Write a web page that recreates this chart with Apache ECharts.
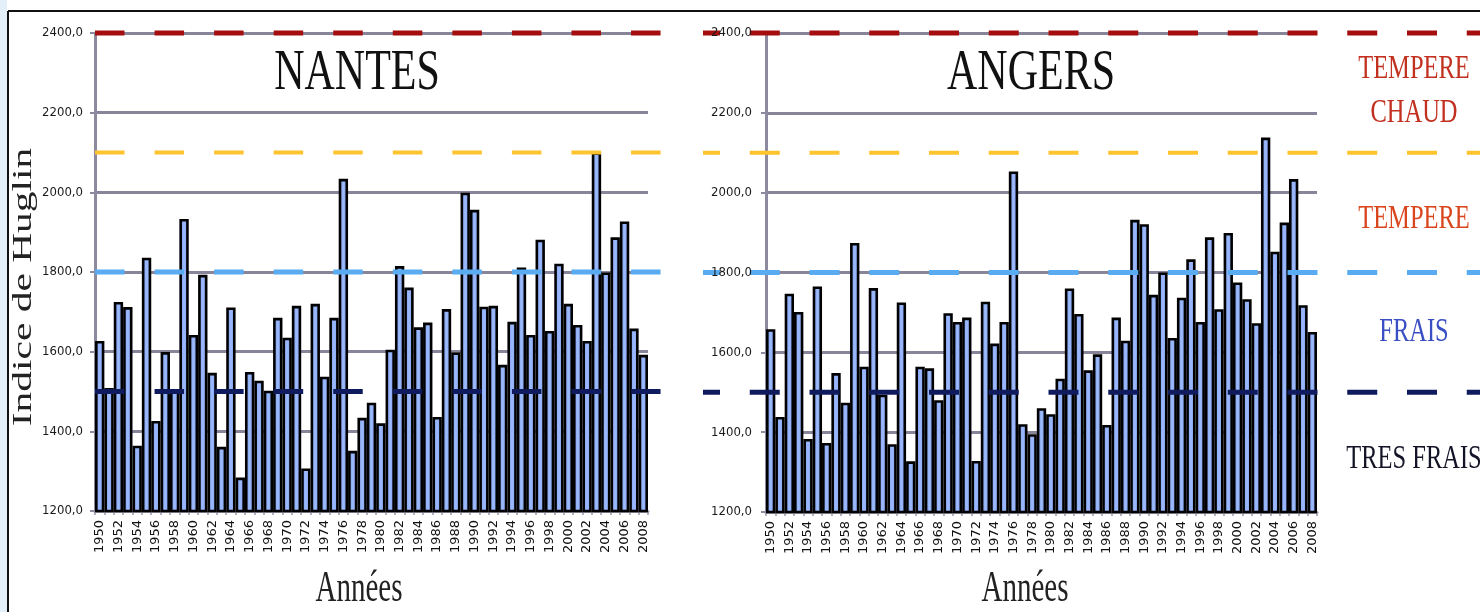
<!DOCTYPE html>
<html>
<head>
<meta charset="utf-8">
<script src="https://cdn.jsdelivr.net/npm/echarts@6/dist/echarts.min.js"></script>
<style>
html,body{margin:0;padding:0;background:#fff;}
#c{width:1480px;height:612px;}
</style>
</head>
<body>
<div id="c"></div>
<script>
const years = [1950,1951,1952,1953,1954,1955,1956,1957,1958,1959,
  1960,1961,1962,1963,1964,1965,1966,1967,1968,1969,
  1970,1971,1972,1973,1974,1975,1976,1977,1978,1979,
  1980,1981,1982,1983,1984,1985,1986,1987,1988,1989,
  1990,1991,1992,1993,1994,1995,1996,1997,1998,1999,
  2000,2001,2002,2003,2004,2005,2006,2007,2008];
const nantes = [1627,1509,1725,1712,1364,1836,1426,1599,1504,1933,
  1642,1793,1547,1361,1711,1284,1549,1527,1502,1685,
  1635,1715,1307,1720,1537,1685,2034,1351,1434,1472,
  1420,1605,1815,1761,1661,1673,1436,1707,1598,1999,
  1956,1713,1715,1567,1675,1811,1642,1881,1652,1821,
  1720,1667,1627,2100,1799,1887,1927,1658,1592];
const angers = [1658,1438,1747,1701,1383,1765,1373,1548,1474,1874,
  1564,1761,1494,1370,1725,1327,1564,1560,1480,1698,
  1676,1687,1328,1727,1622,1676,2053,1420,1395,1460,
  1445,1534,1760,1696,1555,1595,1418,1687,1629,1932,
  1921,1744,1800,1636,1737,1833,1676,1888,1708,1899,
  1775,1733,1673,2138,1852,1925,2034,1718,1651];
const yTicks = [1200,1400,1600,1800,2000,2200,2400];
const thresholds = [2400, 2100, 1800, 1500];
const zoneLabels = ['TEMPERE', 'CHAUD', 'TEMPERE', 'FRAIS', 'TRES FRAIS'];
const titles = ['NANTES', 'ANGERS'];
const yName = 'Indice de Huglin';
const xName = 'Années';

const thrColors = ['#a50e0e', '#fdc42e', '#59abf2', '#0f1b5c'];
const thrWidths = [5, 4, 5, 5];
const zoneColors = ['#c2301f', '#c2301f', '#d9461e', '#3a4fc4', '#141428'];
const zoneY = [69, 113, 219, 332, 459];

const chart = echarts.init(document.getElementById('c'), null, {renderer: 'canvas'});

const gridLineColor = '#88849a';
const yMin = yTicks[0], yMax = yTicks[yTicks.length - 1], yStep = yTicks[1] - yTicks[0];
const fmt = v => v.toFixed(1).replace('.', ',');

function catAxis(gi) {
  return {
    type: 'category', gridIndex: gi, data: years.map(String),
    axisLine: {lineStyle: {color: '#9a98aa', width: 3}},
    axisTick: {show: true, interval: 0, length: 4, lineStyle: {color: '#9a98aa', width: 1.5}},
    axisLabel: {interval: 1, rotate: 90, margin: 9, color: '#111',
      fontFamily: 'DejaVu Sans', fontSize: 13}
  };
}
function valAxis(gi, showLabel, margin) {
  return {
    type: 'value', gridIndex: gi, position: 'left', min: yMin, max: yMax, interval: yStep,
    axisLine: {show: true, lineStyle: {color: '#8c8a9e', width: 3}},
    axisTick: {show: true, length: 5, lineStyle: {color: '#8c8a9e', width: 2}},
    splitLine: {show: true, lineStyle: {color: gridLineColor, width: 3}},
    axisLabel: {show: showLabel, margin: margin, formatter: fmt, color: '#1a1a1a',
      fontFamily: "'Liberation Sans Narrow', 'DejaVu Sans Condensed', sans-serif", fontSize: 13}
  };
}
function hiddenX(gi) { return {type: 'value', gridIndex: gi, min: 0, max: 1, show: false}; }
function hiddenY(gi) { return {type: 'value', gridIndex: gi, min: yMin, max: yMax, show: false}; }

const barStyle = {
  color: {type: 'linear', x: 0, y: 0, x2: 1, y2: 0, colorStops: [
    {offset: 0, color: '#7396ea'}, {offset: 0.5, color: '#9dbafb'}, {offset: 1, color: '#7396ea'}]},
  borderColor: '#000', borderWidth: 2.6
};

const series = [
  {type: 'bar', xAxisIndex: 0, yAxisIndex: 0, data: nantes, barCategoryGap: '0%', itemStyle: barStyle, z: 2, animation: false},
  {type: 'bar', xAxisIndex: 1, yAxisIndex: 1, data: angers, barCategoryGap: '0%', itemStyle: barStyle, z: 2, animation: false}
];
thresholds.forEach((t, k) => {
  series.push({type: 'line', xAxisIndex: 2, yAxisIndex: 2, data: [[0, t], [1, t]],
    symbol: 'none', clip: false, z: 5, animation: false, silent: true,
    lineStyle: {color: thrColors[k], width: thrWidths[k], type: [29.5, 30.06], dashOffset: 0, cap: 'butt'}});
  series.push({type: 'line', xAxisIndex: 3, yAxisIndex: 3, data: [[0, t], [1, t]],
    symbol: 'none', clip: false, z: 5, animation: false, silent: true,
    lineStyle: {color: thrColors[k], width: thrWidths[k], type: [30, 29.75], dashOffset: 13, cap: 'butt'}});
});

function serifText(txt, x, y, size, sy, color, extra) {
  return Object.assign({type: 'text', x: x, y: y, scaleX: 1, scaleY: sy, z: 20,
    style: {text: txt, fill: color, font: size + "px 'Liberation Serif', 'DejaVu Serif', serif",
      textAlign: 'center', textVerticalAlign: 'middle'}}, extra || {});
}

const graphics = [
  {type: 'rect', shape: {x: 0, y: 0, width: 7, height: 612}, style: {fill: '#e3eff9'}, z: 0},
  {type: 'line', shape: {x1: 8, y1: 11, x2: 1480, y2: 11}, style: {stroke: '#111', lineWidth: 2}, z: 20},
  {type: 'line', shape: {x1: 8, y1: 11, x2: 8, y2: 612}, style: {stroke: '#111', lineWidth: 2}, z: 20},
  serifText(titles[0], 357, 74, 42, 1.37, '#111'),
  serifText(titles[1], 1031, 74, 42, 1.37, '#111'),
  serifText(xName, 359, 590, 29, 1.5, '#222'),
  serifText(xName, 1025, 590, 29, 1.5, '#222'),
  Object.assign(serifText(yName, 24, 287, 28, 1, '#222'), {rotation: Math.PI / 2, scaleX: 1.48, scaleY: 1})
];
zoneLabels.forEach((t, k) => {
  graphics.push(serifText(t, 1414, zoneY[k], 24.5, 1.34, zoneColors[k]));
});

const yAxes = [valAxis(0, true, 12), valAxis(1, false, 14), hiddenY(2), hiddenY(3)];
const labelAxis = valAxis(1, true, 14);
labelAxis.axisLine = {show: false}; labelAxis.axisTick = {show: false}; labelAxis.splitLine = {show: false};
labelAxis.z = 10;
yAxes.push(labelAxis);

chart.setOption({
  animation: false,
  backgroundColor: '#ffffff',
  grid: [
    {left: 95, right: 832, top: 33, bottom: 101},
    {left: 766, right: 163, top: 33, bottom: 100},
    {left: 95, right: 819, top: 33, bottom: 101},
    {left: 703, right: 0, top: 33, bottom: 100}
  ],
  xAxis: [catAxis(0), catAxis(1), hiddenX(2), hiddenX(3)],
  yAxis: yAxes,
  series: series,
  graphic: graphics
});
</script>
</body>
</html>
